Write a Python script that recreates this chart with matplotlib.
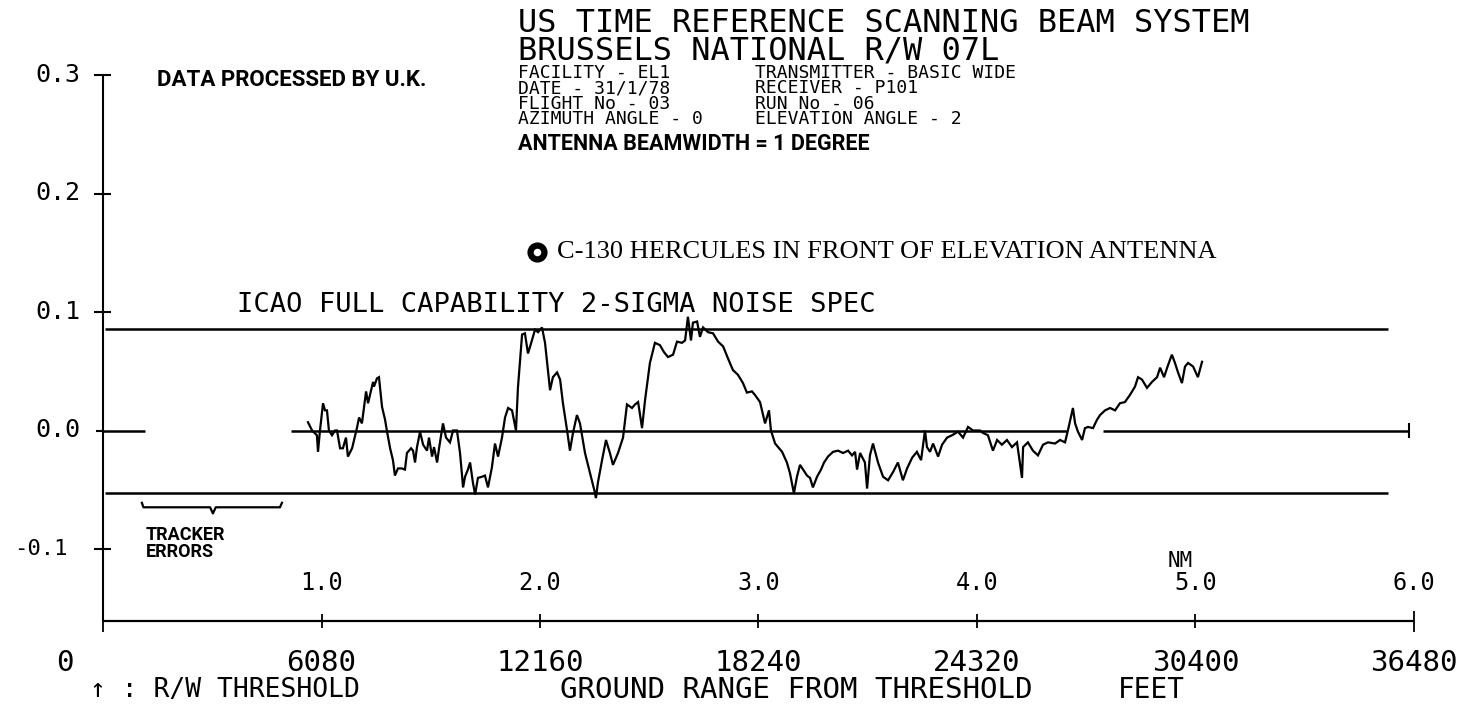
import matplotlib.pyplot as plt

# elevation error (deg) against range (NM) from the flight recorder
trace = [
    (0.938, 0.007), (0.957, 0.000), (0.979, -0.004), (0.984, -0.018), (0.993, 0.000),
    (1.007, 0.023), (1.016, 0.017), (1.025, 0.017), (1.034, 0.000), (1.048, -0.004),
    (1.062, 0.000), (1.071, 0.000), (1.085, -0.015), (1.098, -0.015), (1.112, -0.006),
    (1.121, -0.022), (1.140, -0.015), (1.149, -0.008), (1.162, 0.002), (1.172, 0.011),
    (1.185, 0.006), (1.204, 0.033), (1.213, 0.023), (1.227, 0.034), (1.236, 0.041),
    (1.240, 0.037), (1.254, 0.044), (1.263, 0.045), (1.277, 0.020), (1.291, 0.009),
    (1.300, -0.001), (1.314, -0.015), (1.327, -0.025), (1.336, -0.038), (1.350, -0.032),
    (1.368, -0.032), (1.382, -0.033), (1.391, -0.019), (1.410, -0.015), (1.419, -0.017),
    (1.428, -0.027), (1.437, -0.014), (1.451, -0.001), (1.465, -0.012), (1.483, -0.017),
    (1.492, -0.006), (1.506, -0.022), (1.515, -0.014), (1.529, -0.027), (1.538, -0.015),
    (1.556, 0.006), (1.570, -0.006), (1.588, -0.010), (1.602, 0.000), (1.620, 0.000),
    (1.634, -0.019), (1.648, -0.048), (1.657, -0.039), (1.670, -0.033), (1.680, -0.027),
    (1.693, -0.044), (1.703, -0.054), (1.716, -0.040), (1.735, -0.039), (1.748, -0.038),
    (1.762, -0.048), (1.780, -0.031), (1.794, -0.011), (1.808, -0.022), (1.826, -0.006),
    (1.840, 0.011), (1.854, 0.019), (1.872, 0.017), (1.890, 0.000), (1.899, 0.036),
    (1.918, 0.081), (1.931, 0.082), (1.945, 0.065), (1.963, 0.076), (1.977, 0.085),
    (1.991, 0.083), (2.009, 0.087), (2.023, 0.074), (2.046, 0.034), (2.059, 0.045),
    (2.078, 0.049), (2.092, 0.043), (2.105, 0.023), (2.124, 0.000), (2.137, -0.017),
    (2.151, -0.002), (2.169, 0.013), (2.183, 0.006), (2.206, -0.019), (2.229, -0.036),
    (2.252, -0.053), (2.256, -0.057), (2.265, -0.044), (2.284, -0.025), (2.302, -0.008),
    (2.320, -0.019), (2.334, -0.029), (2.357, -0.019), (2.380, -0.006), (2.398, 0.022),
    (2.421, 0.019), (2.435, 0.022), (2.449, 0.024), (2.467, 0.002), (2.481, 0.026),
    (2.503, 0.057), (2.526, 0.074), (2.549, 0.072), (2.568, 0.066), (2.586, 0.062),
    (2.609, 0.064), (2.627, 0.075), (2.650, 0.074), (2.664, 0.076), (2.677, 0.096),
    (2.691, 0.076), (2.700, 0.091), (2.719, 0.092), (2.732, 0.079), (2.746, 0.087),
    (2.769, 0.083), (2.792, 0.082), (2.815, 0.075), (2.838, 0.071), (2.860, 0.061),
    (2.883, 0.051), (2.906, 0.047), (2.929, 0.040), (2.947, 0.032), (2.970, 0.033),
    (2.984, 0.030), (3.007, 0.024), (3.030, 0.006), (3.048, 0.017), (3.057, 0.000),
    (3.076, -0.011), (3.108, -0.018), (3.130, -0.027), (3.144, -0.036), (3.162, -0.053),
    (3.176, -0.039), (3.190, -0.029), (3.204, -0.033), (3.222, -0.038), (3.236, -0.040),
    (3.249, -0.048), (3.268, -0.039), (3.286, -0.033), (3.300, -0.027), (3.318, -0.022),
    (3.341, -0.018), (3.364, -0.017), (3.387, -0.019), (3.410, -0.017), (3.428, -0.021),
    (3.442, -0.018), (3.451, -0.033), (3.465, -0.019), (3.487, -0.027), (3.497, -0.049),
    (3.510, -0.021), (3.524, -0.011), (3.547, -0.027), (3.570, -0.039), (3.593, -0.042),
    (3.616, -0.035), (3.638, -0.027), (3.661, -0.042), (3.680, -0.032), (3.703, -0.023),
    (3.725, -0.018), (3.744, -0.025), (3.762, 0.000), (3.771, -0.014), (3.785, -0.018),
    (3.799, -0.011), (3.822, -0.022), (3.840, -0.012), (3.863, -0.006), (3.886, -0.004),
    (3.913, -0.001), (3.936, -0.006), (3.959, 0.003), (3.982, 0.000), (4.014, 0.000),
    (4.027, -0.002), (4.050, -0.004), (4.073, -0.017), (4.092, -0.008), (4.114, -0.012),
    (4.137, -0.008), (4.160, -0.014), (4.183, -0.010), (4.206, -0.040), (4.211, -0.014),
    (4.233, -0.010), (4.256, -0.017), (4.279, -0.021), (4.302, -0.012), (4.325, -0.010),
    (4.357, -0.011), (4.380, -0.008), (4.403, -0.010), (4.416, 0.000), (4.439, 0.019),
    (4.449, 0.006), (4.462, -0.001), (4.481, -0.008), (4.494, 0.002), (4.508, 0.003),
    (4.531, 0.002), (4.549, 0.009), (4.563, 0.013), (4.586, 0.017), (4.609, 0.019),
    (4.632, 0.017), (4.654, 0.023), (4.677, 0.024), (4.700, 0.030), (4.723, 0.037),
    (4.737, 0.045), (4.755, 0.043), (4.778, 0.036), (4.801, 0.041), (4.824, 0.045),
    (4.838, 0.053), (4.856, 0.045), (4.874, 0.055), (4.892, 0.064), (4.906, 0.057),
    (4.920, 0.049), (4.938, 0.040), (4.952, 0.054), (4.966, 0.057), (4.989, 0.054),
    (5.011, 0.045), (5.030, 0.058),
]
range_nm = [p[0] for p in trace]
error_deg = [p[1] for p in trace]

spec_upper = 0.086
spec_lower = -0.053
spec_end_nm = 5.881
zero_segments = [(0.0, 0.192), (0.860, 4.412), (4.577, 5.977)]

y_ticks = [0.3, 0.2, 0.1, 0.0, -0.1]
y_labels = ['0.3', '0.2', '0.1', '0.0', '-0.1']
nm_ticks = [0, 1, 2, 3, 4, 5, 6]
nm_labels = ['1.0', '2.0', '3.0', '4.0', '5.0', '6.0']
ft_labels = ['0', '6080', '12160', '18240', '24320', '30400', '36480']
x_axis_y = -0.161

title_lines = ['US TIME REFERENCE SCANNING BEAM SYSTEM', 'BRUSSELS NATIONAL R/W 07L']
left_col = ['FACILITY - EL1', 'DATE - 31/1/78', 'FLIGHT No - 03', 'AZIMUTH ANGLE - 0']
right_col = ['TRANSMITTER - BASIC WIDE', 'RECEIVER - P101', 'RUN No - 06',
             'ELEVATION ANGLE - 2']

W, H = 1470, 704
mono = 'DejaVu Sans Mono'
narrow = 'Roboto'

fig = plt.figure(figsize=(W / 100, H / 100), dpi=100)
ax = fig.add_axes([0, 0, 1, 1])
ax.set_xlim(-0.4714, 6.2563)
ax.set_ylim(-0.2308, 0.3633)
ax.axis('off')

k = dict(color='black', solid_capstyle='butt', clip_on=False)

# axes
ax.plot([0, 0], [0.3, x_axis_y], lw=1.5, **k)
ax.plot([0, 6], [x_axis_y, x_axis_y], lw=1.6, **k)
for t in y_ticks:
    if t == 0.0:
        ax.plot([-0.03, 0], [t, t], lw=1.5, **k)
    else:
        ax.plot([-0.04, 0.035], [t, t], lw=1.5, **k)
for t in nm_ticks:
    h = 0.009 if t in (0, 6) else 0.006
    ax.plot([t, t], [x_axis_y - h, x_axis_y + h], lw=1.3, **k)

# spec limits and zero reference
ax.plot([0.01, spec_end_nm], [spec_upper, spec_upper], lw=1.8, **k)
ax.plot([0.01, spec_end_nm], [spec_lower, spec_lower], lw=1.8, **k)
for a, b in zero_segments:
    ax.plot([a, b], [0, 0], lw=1.8, **k)
ax.plot([zero_segments[-1][1]] * 2, [-0.006, 0.006], lw=1.5, **k)

# tracked error
ax.plot(range_nm, error_deg, lw=1.6, color='black', solid_joinstyle='miter')

# tracker error brace
bx = [0.178, 0.185, 0.49, 0.503, 0.516, 0.81, 0.819]
by = [-0.061, -0.0648, -0.0648, -0.070, -0.0648, -0.0648, -0.061]
ax.plot(bx, by, lw=1.6, color='black')


def ftext(x, y, s, **kw):
    kw.setdefault('va', 'center')
    fig.text(x / W, 1 - y / H, s, **kw)


for t, lab in zip(y_ticks, y_labels):
    py = 430.5 - t * 1185
    if t < 0:
        ftext(68, py, lab, family=mono, fontsize=16, ha='right')
    else:
        ftext(80, py, lab, family=mono, fontsize=18, ha='right')

for t, lab in zip(nm_ticks[1:], nm_labels):
    ftext(103 + t * 218.5, 583, lab, family=mono, fontsize=17, ha='center')
ftext(1180, 561, 'NM', family=mono, fontsize=15, ha='center')

for t, lab in zip(nm_ticks, ft_labels):
    x = 65 if t == 0 else 103 + t * 218.5
    ftext(x, 663, lab, family=mono, fontsize=21, ha='center')

ftext(90, 690, '↑ : R/W THRESHOLD', family=mono, fontsize=19)
ftext(560, 690, 'GROUND RANGE FROM THRESHOLD', family=mono, fontsize=21)
ftext(1118, 690, 'FEET', family=mono, fontsize=20)

# header block
ftext(518, 8, '\n'.join(title_lines), family=mono, fontsize=23, va='top',
      linespacing=0.87)
ftext(518, 64, '\n'.join(left_col), family=mono, fontsize=13, va='top',
      linespacing=0.81)
ftext(755, 64, '\n'.join(right_col), family=mono, fontsize=13, va='top',
      linespacing=0.81)

ftext(157, 80, 'DATA PROCESSED BY U.K.', family=narrow, fontsize=16, fontweight='bold')
ftext(518, 144, 'ANTENNA BEAMWIDTH = 1 DEGREE', family=narrow, fontsize=15.5,
      fontweight='bold')

ax.plot([537 / W], [1 - 252 / H], marker='o', ms=10, mfc='white', mec='black',
        mew=4.5, transform=fig.transFigure)
ftext(557, 252, 'C-130 HERCULES IN FRONT OF ELEVATION ANTENNA',
      family='Liberation Serif', fontsize=19)

ftext(237, 305, 'ICAO FULL CAPABILITY 2-SIGMA NOISE SPEC', family=mono, fontsize=19.5)

ftext(146, 526, 'TRACKER\nERRORS', family=narrow, fontsize=13, fontweight='bold',
      va='top', linespacing=0.9)

fig.savefig('out.png', dpi=100)
